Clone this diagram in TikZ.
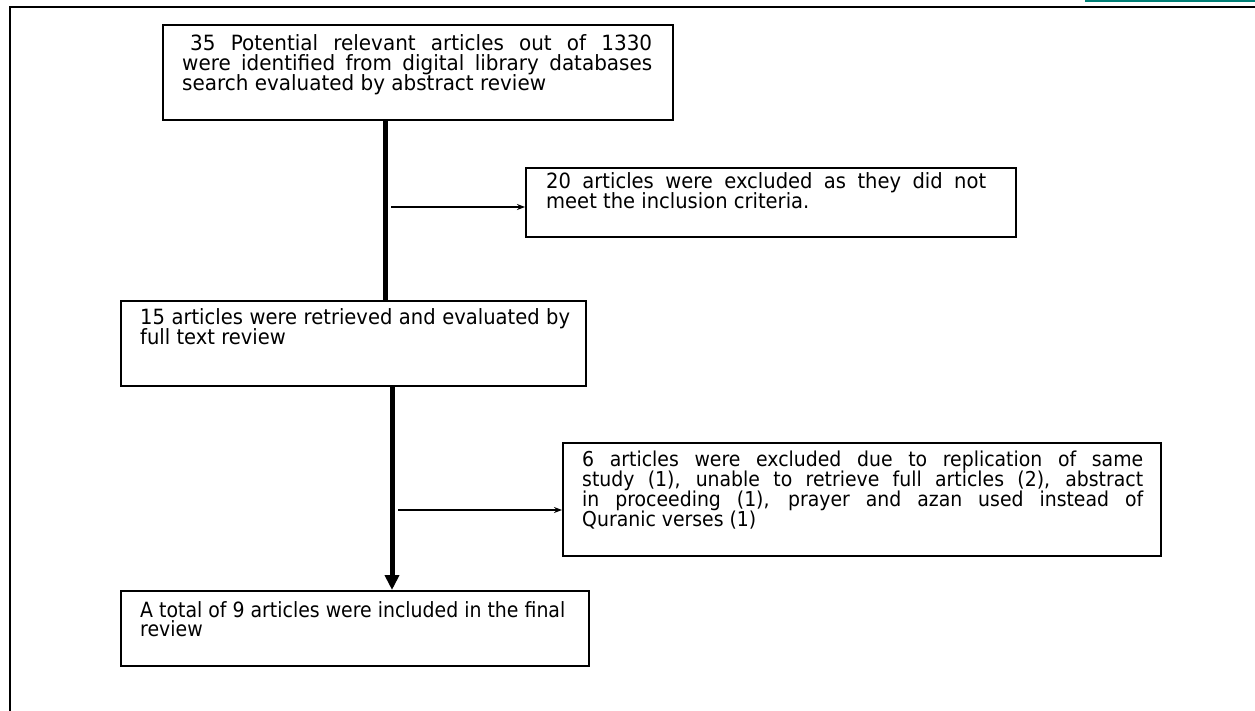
\documentclass[tikz,border=0pt]{standalone}
\usepackage{fontspec}
\setmainfont{DejaVu Sans}
\newfontfamily\topbox[FakeStretch=0.95]{DejaVu Sans}
\newfontfamily\mainbox[FakeStretch=0.93]{DejaVu Sans}
\newfontfamily\condfont[FakeStretch=0.92]{DejaVu Sans}
\newfontfamily\semicondfont[FakeStretch=0.9]{DejaVu Sans}
\usetikzlibrary{arrows.meta}
\definecolor{framegreen}{RGB}{0,128,118}
\newcommand\jline[1]{\makebox[\linewidth][s]{#1}\par}
\begin{document}
\begin{tikzpicture}[x=1pt,y=-1pt,
  box/.style={draw=black, line width=1.6pt, inner sep=0pt, anchor=north west},
  boxtext/.style={anchor=base west, inner sep=0pt},
  spine/.style={line width=5pt},
  feeder/.style={line width=1.4pt, -{Stealth[length=8pt,width=6pt]}},
]
\useasboundingbox (0,0) rectangle (1255,711);
% frame
\draw[line width=2.5pt] (10,711) -- (10,7) -- (1255,7);
\draw[framegreen, line width=2.5pt] (1085,1.2) -- (1255,1.2);
% boxes
\node[box, minimum width=510pt, minimum height=95pt] (b1) at (162,24) {};
\node[box, minimum width=490pt, minimum height=69pt] (b2) at (525,167) {};
\node[box, minimum width=465pt, minimum height=85pt] (b3) at (120,300) {};
\node[box, minimum width=598pt, minimum height=113pt] (b4) at (562,442) {};
\node[box, minimum width=468pt, minimum height=75pt] (b5) at (120,590) {};
% texts
\node[boxtext] (t1) at (182,51) {\parbox[t]{470pt}{\topbox\fontsize{21pt}{19.8pt}\selectfont\lineskiplimit=-50pt
  \jline{\hspace{8pt}35 Potential relevant articles out of 1330}\jline{were identified from digital library databases}search evaluated by abstract review}};
\node[boxtext] (t2) at (546,189) {\parbox[t]{440pt}{\mainbox\fontsize{21pt}{20pt}\selectfont\lineskiplimit=-50pt
  \jline{20 articles were excluded as they did not}meet the inclusion criteria.}};
\node[boxtext] (t3) at (140,324) {\parbox[t]{430pt}{\mainbox\fontsize{21pt}{20pt}\selectfont\lineskiplimit=-50pt
  \jline{15 articles were retrieved and evaluated by}full text review}};
\node[boxtext] (t4) at (582,466) {\parbox[t]{561pt}{\condfont\fontsize{20.5pt}{20pt}\selectfont\lineskiplimit=-50pt
  \jline{6 articles were excluded due to replication of same}\jline{study (1), unable to retrieve full articles (2), abstract}\jline{in proceeding (1), prayer and azan used instead of}Quranic verses (1)}};
\node[boxtext] (t5) at (140,617) {\parbox[t]{440pt}{\semicondfont\fontsize{21pt}{19pt}\selectfont\lineskiplimit=-50pt
  A total of 9 articles were included in the final\par review}};
% connectors
\coordinate (s1) at (385,0);
\coordinate (s2) at (392,0);
\draw[spine] (b1.south -| s1) -- (b3.north -| s1);
\draw[spine, -{Triangle[length=15pt,width=14pt]}] (b3.south -| s2) -- (b5.north -| s2);
\coordinate (f1) at (391,207);
\coordinate (f2) at (398,510);
\draw[feeder] (f1) -- (f1 -| b2.west);
\draw[feeder] (f2) -- (f2 -| b4.west);
\end{tikzpicture}
\end{document}
